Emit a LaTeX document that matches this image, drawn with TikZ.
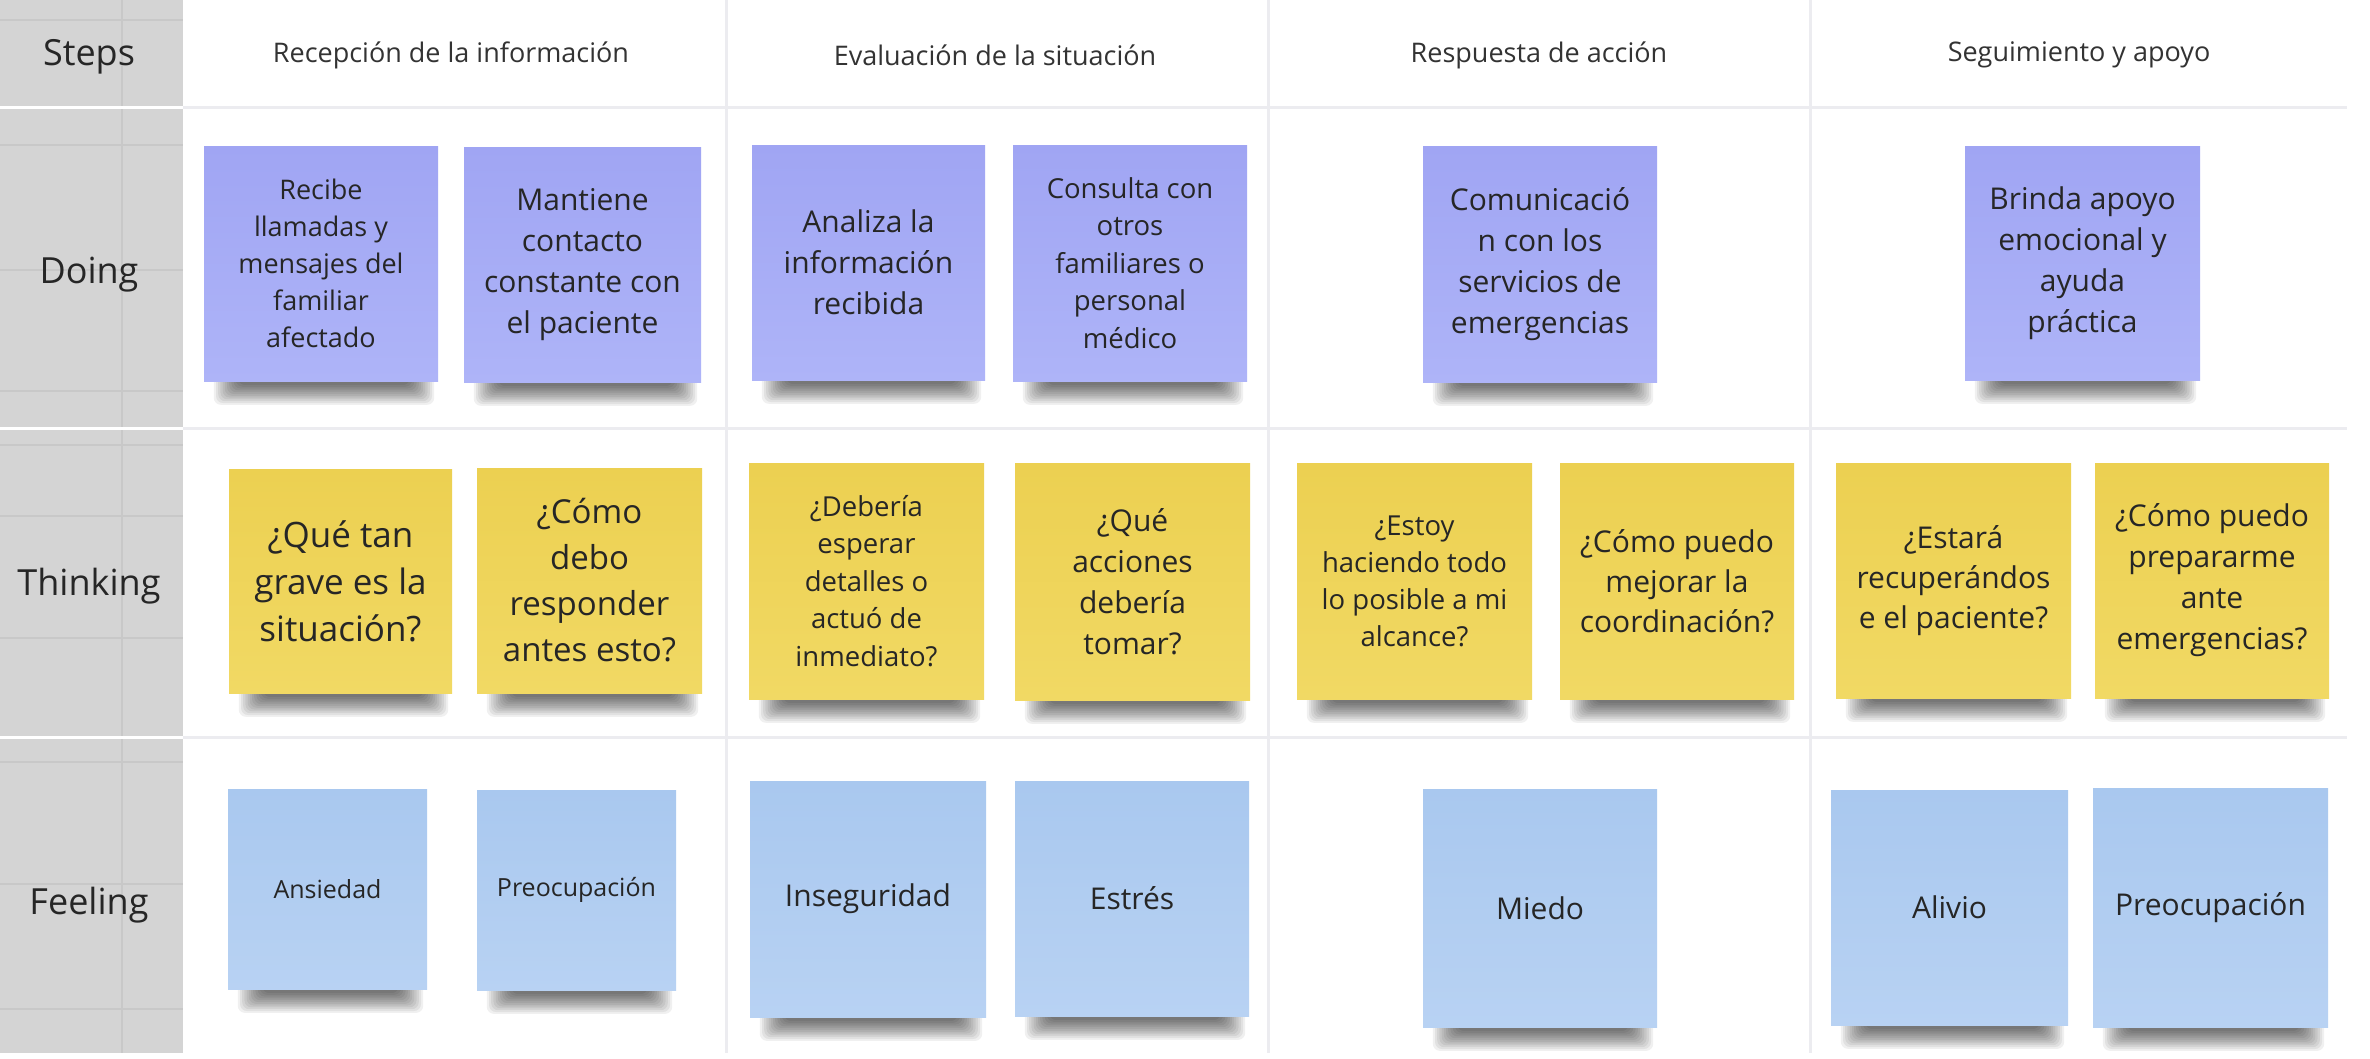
\documentclass[tikz,border=0pt]{standalone}
\usepackage{fontspec}
\setmainfont{Open Sans}

\definecolor{graycol}{HTML}{D4D4D4}
\definecolor{grayline}{HTML}{C8C8C8}
\definecolor{gridline}{HTML}{ECECF0}
\definecolor{txt}{HTML}{262626}
\definecolor{hdrtxt}{HTML}{333333}
\definecolor{doTop}{HTML}{A0A5F3}
\definecolor{doBot}{HTML}{AEB4F8}
\definecolor{thTop}{HTML}{ECD051}
\definecolor{thBot}{HTML}{F1D964}
\definecolor{feTop}{HTML}{A9C8EF}
\definecolor{feBot}{HTML}{B8D2F3}

\tikzset{
  note/.style={rectangle, inner sep=0pt, align=center, text=txt},
  doingnote/.style={note, top color=doTop, bottom color=doBot},
  thinknote/.style={note, top color=thTop, bottom color=thBot},
  feelnote/.style={note, top color=feTop, bottom color=feBot},
  rowlabel/.style={inner sep=0pt, text=txt, font=\fontsize{36}{44}\selectfont},
  header/.style={inner sep=0pt, text=hdrtxt, font=\fontsize{27}{33}\selectfont},
  boardline/.style={draw=gridline, line width=3pt},
  whitesep/.style={draw=white, line width=3pt},
  faint/.style={draw=grayline, line width=2pt},
  shadowlayer/.style={fill=black, opacity=0.06, rounded corners=7pt},
}

% #1 name, #2 cx, #3 cy, #4 w, #5 h, #6 style, #7 font size, #8 baselineskip, #9 text
\newcommand\stk[9]{%
  \foreach \k in {0,...,11}{
    \fill[shadowlayer] ({#2-#4/2+34-\k*2.2},{#3+#5/2-12}) rectangle ({#2+#4/2-28+\k*2.2},{#3+#5/2+4+\k*1.8});
  }
  \node[#6, minimum width=#4pt, minimum height=#5pt, font=\fontsize{#7}{#8}\selectfont] (#1) at (#2,#3) {#9};
}

\begin{document}
\begin{tikzpicture}[x=1pt, y=-1pt]
\useasboundingbox (0,0) rectangle (2370,1058);
\fill[white] (0,0) rectangle (2370,1058);

% gray label column
\fill[graycol] (0,0) rectangle (183,1053);
\foreach \yy in {20,145,270,391,445,516,638,762,884,1009}
  \draw[faint] (0,\yy) -- (183,\yy);
\draw[faint] (122,0) -- (122,1053);
\foreach \yy in {107,428,737}
  \draw[whitesep] (0,\yy) -- (183,\yy);

% board grid
\foreach \xx in {726,1268,1810}
  \draw[boardline] (\xx,0) -- (\xx,1053);
\foreach \yy in {107,428,737}
  \draw[boardline] (183,\yy) -- (2347,\yy);

% row labels
\node[rowlabel] (lsteps) at (89,57) {Steps};
\node[rowlabel] (ldoing) at (89,275) {Doing};
\node[rowlabel] (lthink) at (89,586) {Thinking};
\node[rowlabel] (lfeel) at (89,905) {Feeling};

% headers
\node[header] (h1) at (451,55) {Recepción de la información};
\node[header] (h2) at (995,55) {Evaluación de la situación};
\node[header] (h3) at (1539,55) {Respuesta de acción};
\node[header] (h4) at (2079,55) {Seguimiento y apoyo};

% Doing
\stk{d1}{321}{263.5}{234}{235}{doingnote}{27}{37}{Recibe\\llamadas y\\mensajes del\\familiar\\afectado}
\stk{d2}{582.5}{264.5}{237}{235}{doingnote}{30}{41}{Mantiene\\contacto\\constante con\\el paciente}
\stk{d3}{868.5}{262.5}{233}{235}{doingnote}{30}{41}{Analiza la\\información\\recibida}
\stk{d4}{1130}{263}{234}{236}{doingnote}{27.5}{37.5}{Consulta con\\otros\\familiares o\\personal\\médico}
\stk{d5}{1540}{264}{234}{236}{doingnote}{30}{41}{Comunicació\\n con los\\servicios de\\emergencias}
\stk{d6}{2082.5}{263}{235}{234}{doingnote}{30}{41}{Brinda apoyo\\emocional y\\ayuda\\práctica}

% Thinking
\stk{t1}{340.5}{581}{223}{224}{thinknote}{35}{47}{¿Qué tan\\grave es la\\situación?}
\stk{t2}{589.5}{580.5}{225}{225}{thinknote}{33}{46}{¿Cómo\\debo\\responder\\antes esto?}
\stk{t3}{866.5}{581}{235}{236}{thinknote}{27.5}{37.5}{¿Debería\\esperar\\detalles o\\actuó de\\inmediato?}
\stk{t4}{1132.5}{581.5}{235}{237}{thinknote}{30}{41}{¿Qué\\acciones\\debería\\tomar?}
\stk{t5}{1414.5}{581}{235}{236}{thinknote}{27.5}{37}{¿Estoy\\haciendo todo\\lo posible a mi\\alcance?}
\stk{t6}{1677}{581}{234}{236}{thinknote}{30}{40}{¿Cómo puedo\\mejorar la\\coordinación?}
\stk{t7}{1953.5}{580.5}{235}{235}{thinknote}{30}{40}{¿Estará\\recuperándos\\e el paciente?}
\stk{t8}{2212}{580.5}{234}{235}{thinknote}{30}{41}{¿Cómo puedo\\prepararme\\ante\\emergencias?}

% Feeling
\stk{f1}{327.5}{889}{199}{200}{feelnote}{25}{32}{Ansiedad}
\stk{f2}{576.5}{890}{199}{200}{feelnote}{25}{32}{Preocupación}
\stk{f3}{868}{899}{236}{236}{feelnote}{30}{40}{Inseguridad}
\stk{f4}{1132}{898.5}{234}{235}{feelnote}{30}{40}{Estrés}
\stk{f5}{1540}{908}{234}{238}{feelnote}{30}{40}{Miedo}
\stk{f6}{1949.5}{907.5}{237}{235}{feelnote}{30}{40}{Alivio}
\stk{f7}{2210.5}{907.5}{235}{239}{feelnote}{30}{40}{Preocupación}
\end{tikzpicture}
\end{document}
